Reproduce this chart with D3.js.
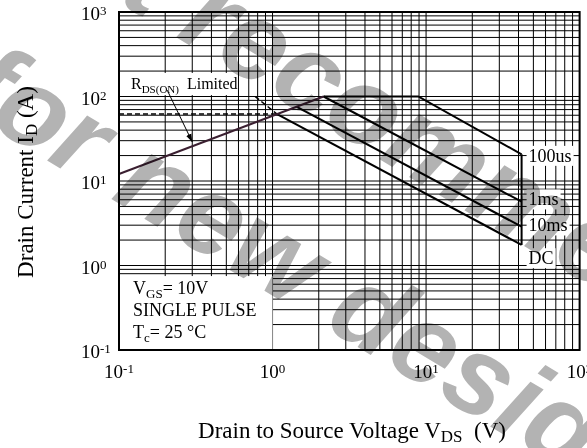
<!DOCTYPE html>
<html><head><meta charset="utf-8">
<script src="https://cdn.jsdelivr.net/npm/d3@7"></script>
<style>
html,body{margin:0;padding:0;background:#fff;}
svg{display:block;}
</style></head><body>
<svg id="chart" width="587" height="448"></svg>
<script>
// Safe operating area, drain current vs drain-source voltage (log-log)
const xTicks = [0.1, 1, 10, 100];
const xTickExp = ["-1", "0", "1", "2"];
const yTicks = [0.1, 1, 10, 100, 1000];
const yTickExp = ["-1", "0", "1", "2", "3"];

// boundary lines, [V, A]
const rdsLimit = [[0.1, 12.1], [2.15, 100]];
const curve100us = [[2.15, 100], [8.9, 100], [41.9, 20.7]];
const curve1ms = [[2.15, 100], [41.9, 5.69]];
const curve10ms = [[1.43, 75.9], [41.9, 2.88]];
const curveDC = [[1.07, 62], [41.9, 1.75]];
const dcExtension = [[0.77, 100], [1.07, 62]];
const currentCap = [[0.1, 62], [1.07, 62]];
const vdsLimit = [[41.9, 20.7], [41.9, 1.75]];

const curveLabels = ["100us", "1ms", "10ms", "DC"];
const curveLabelAt = [[41.9, 20], [41.9, 6.1], [41.9, 3.0], [41.9, 1.23]];

const conditions = ["V|GS|= 10V", "SINGLE PULSE", "T|c|= 25 °C"];

const serif = '"Liberation Serif","Times New Roman",serif';
const svg = d3.select("#chart");
const W = 587, H = 448;

const x = d3.scaleLog().domain([0.1, 100]).range([119, 579.6]);
const y = d3.scaleLog().domain([0.1, 1000]).range([350, 12]);

svg.append("rect").attr("width", W).attr("height", H).attr("fill", "#fff");

// log grid
const minor = (lo, hi) => {
  const out = [];
  for (let d = lo; d < hi; d *= 10) for (let k = 1; k <= 9; k++) out.push(d * k);
  out.push(hi);
  return out;
};
const grid = svg.append("g").attr("stroke", "#000").attr("stroke-width", 1);
grid.selectAll("line.v").data(minor(0.1, 100)).join("line")
  .attr("x1", d => x(d)).attr("x2", d => x(d))
  .attr("y1", y(1000)).attr("y2", y(0.1));
grid.selectAll("line.h").data(minor(0.1, 1000)).join("line")
  .attr("y1", d => y(d)).attr("y2", d => y(d))
  .attr("x1", x(0.1)).attr("x2", x(100));

// white panels behind annotation text
svg.append("rect").attr("fill", "#fff")
  .attr("x", x(0.1)).attr("y", y(190))
  .attr("width", x(0.59) - x(0.1)).attr("height", y(104) - y(190));
svg.append("rect").attr("fill", "#fff")
  .attr("x", x(0.1)).attr("y", y(0.75))
  .attr("width", x(1) - x(0.1)).attr("height", y(0.1) - y(0.75));

const line = d3.line().x(d => x(d[0])).y(d => y(d[1]));

// limit lines
svg.append("path").datum(currentCap).attr("d", line)
  .attr("fill", "none").attr("stroke", "#000").attr("stroke-width", 1.5)
  .attr("stroke-dasharray", "5,3");
svg.append("path").datum(dcExtension).attr("d", line)
  .attr("fill", "none").attr("stroke", "#000").attr("stroke-width", 1.5)
  .attr("stroke-dasharray", "5,3");
[curve100us, curve1ms, curve10ms, curveDC, vdsLimit].forEach(c => {
  svg.append("path").datum(c).attr("d", line)
    .attr("fill", "none").attr("stroke", "#000").attr("stroke-width", 2)
    .attr("stroke-linejoin", "miter");
});
svg.append("path").datum(rdsLimit).attr("d", line)
  .attr("fill", "none").attr("stroke", "#3a1f30").attr("stroke-width", 2);

// curve labels with white backing
curveLabels.forEach((t, i) => {
  const g = svg.append("g");
  const tx = g.append("text")
    .attr("x", x(curveLabelAt[i][0]) + 7).attr("y", y(curveLabelAt[i][1]))
    .attr("dy", "0.35em")
    .attr("font-family", serif).attr("font-size", 18).text(t);
  const b = tx.node().getBBox();
  g.insert("rect", "text").attr("fill", "#fff")
    .attr("x", b.x - 2).attr("y", b.y).attr("width", b.width + 4).attr("height", b.height);
});

// RDS(ON) Limited label and arrow
const rl = svg.append("text").attr("font-family", serif).attr("font-size", 16)
  .attr("x", x(0.1) + 12).attr("y", y(122));
rl.append("tspan").text("R");
rl.append("tspan").attr("font-size", 11).attr("dy", 4).text("DS(ON)");
rl.append("tspan").attr("dy", -4).text("\u00a0 Limited");

const arrowFrom = [0.206, 119], arrowTo = [0.30, 29];
svg.append("defs").append("marker").attr("id", "ah")
  .attr("viewBox", "0 0 10 10").attr("refX", 10).attr("refY", 5)
  .attr("markerWidth", 8).attr("markerHeight", 8).attr("orient", "auto")
  .attr("markerUnits", "userSpaceOnUse")
  .append("path").attr("d", "M0,1.5L10,5L0,8.5Z").attr("fill", "#000");
svg.append("line")
  .attr("x1", x(arrowFrom[0])).attr("y1", y(arrowFrom[1]))
  .attr("x2", x(arrowTo[0])).attr("y2", y(arrowTo[1]))
  .attr("stroke", "#000").attr("stroke-width", 1).attr("marker-end", "url(#ah)");

// test conditions
conditions.forEach((c, i) => {
  const t = svg.append("text").attr("font-family", serif).attr("font-size", 18)
    .attr("x", x(0.1) + 14).attr("y", 294 + i * 22);
  const parts = c.split("|");
  parts.forEach((p, j) => {
    const s = t.append("tspan").text(p);
    if (j === 1) s.attr("font-size", 13).attr("dy", 4);
    if (j === 2) s.attr("dy", -4);
  });
});

// frame
svg.append("rect").attr("x", x(0.1)).attr("y", y(1000))
  .attr("width", x(100) - x(0.1)).attr("height", y(0.1) - y(1000))
  .attr("fill", "none").attr("stroke", "#000").attr("stroke-width", 2);

// tick labels
yTicks.forEach((v, i) => {
  const t = svg.append("text").attr("font-family", serif).attr("font-size", 19)
    .attr("x", 81).attr("y", y(v) + 8);
  t.append("tspan").text("10");
  t.append("tspan").attr("font-size", 13).attr("dy", -5).text(yTickExp[i]);
});
xTicks.forEach((v, i) => {
  const t = svg.append("text").attr("font-family", serif).attr("font-size", 19)
    .attr("x", x(v)).attr("y", 378).attr("text-anchor", "middle");
  t.append("tspan").text("10");
  t.append("tspan").attr("font-size", 13).attr("dy", -5).text(xTickExp[i]);
});

// axis titles
const xt = svg.append("text").attr("font-family", serif).attr("font-size", 23)
  .attr("x", 352).attr("y", 438).attr("text-anchor", "middle");
xt.append("tspan").text("Drain to Source Voltage V");
xt.append("tspan").attr("font-size", 17).attr("dy", 4).text("DS");
xt.append("tspan").attr("dy", -4).text("\u00a0 (V)");

const yt = svg.append("text").attr("font-family", serif).attr("font-size", 23)
  .attr("transform", "translate(33,182) rotate(-90)").attr("text-anchor", "middle");
yt.append("tspan").text("Drain Current I");
yt.append("tspan").attr("font-size", 17).attr("dy", 4).text("D");
yt.append("tspan").attr("dy", -4).text(" (A)");

// watermark
const wm = svg.append("g").style("mix-blend-mode", "multiply")
  .attr("fill", "#b3b3b3").attr("font-family", '"Liberation Sans",Arial,sans-serif')
  .attr("font-weight", "bold").attr("font-style", "italic").attr("font-size", 112);
wm.append("text").attr("transform", "translate(-12,-76) rotate(31)").text("Not recommended");
wm.append("text").attr("transform", "translate(-45,105) rotate(31)").text("for new design");
</script>
</body></html>
